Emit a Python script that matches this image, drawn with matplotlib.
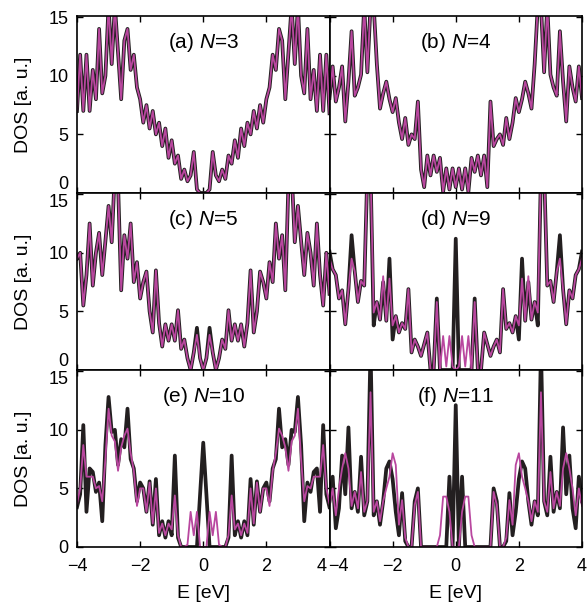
import numpy as np
import matplotlib
matplotlib.use("Agg")
import matplotlib.pyplot as plt
from matplotlib.transforms import ScaledTranslation

plt.rcParams['font.family'] = ['Liberation Sans', 'DejaVu Sans']
plt.rcParams['mathtext.fontset'] = 'custom'
plt.rcParams['mathtext.rm'] = 'Liberation Sans'
plt.rcParams['mathtext.it'] = 'Liberation Sans:italic'

# energy grid, eV
E = np.linspace(-4, 4, 81)

# DOS (black = thick curve, magenta = thin curve)
dos_a = [7.0, 11.8, 7.0, 11.8, 7.0, 10.5, 8.0, 14.0, 8.5, 10.0,
         16.0, 11.0, 16.0, 12.0, 8.0, 13.0, 14.0, 10.5, 11.8, 9.0,
         8.0, 6.0, 7.5, 5.5, 7.0, 5.0, 6.0, 4.0, 5.5, 3.0,
         4.5, 2.5, 3.2, 1.2, 2.0, 1.0, 1.5, 3.5, 0.3, 0.0, 0.0,
         0.0, 0.3, 3.5, 1.5, 1.0, 2.0, 1.2, 3.2, 2.5, 4.5,
         3.0, 5.5, 4.0, 6.0, 5.0, 7.0, 5.5, 7.5, 6.0, 8.0,
         9.0, 11.8, 10.5, 14.0, 13.0, 8.0, 12.0, 16.0, 11.0, 16.0,
         10.0, 8.5, 14.0, 8.0, 10.5, 7.0, 11.8, 7.0, 11.8, 6.8]

dos_b = [8.1, 10.8, 7.8, 9.0, 10.8, 6.1, 9.5, 13.8, 8.3, 9.0,
         10.1, 16.0, 10.3, 16.0, 16.0, 11.0, 7.2, 8.5, 9.5, 8.0,
         6.9, 8.1, 6.0, 4.6, 6.4, 4.1, 5.0, 4.6, 7.8, 2.0,
         0.5, 3.2, 1.5, 3.2, 1.8, 3.0, 0.1, 2.1, 0.3, 2.1, 0.5,
         2.1, 0.3, 2.1, 0.1, 3.0, 1.8, 3.2, 1.5, 3.2, 0.5,
         7.8, 4.0, 4.6, 5.0, 4.1, 6.4, 4.6, 6.0, 8.1, 6.9,
         8.0, 9.5, 8.5, 7.2, 11.0, 16.0, 16.0, 10.3, 16.0, 10.1,
         9.0, 8.3, 13.8, 9.5, 6.1, 10.8, 9.0, 7.8, 10.8, 8.1]

dos_c_black = [9.5, 10.0, 5.5, 8.1, 12.5, 7.2, 10.0, 11.7, 8.1, 11.0,
               14.0, 10.9, 17.0, 16.0, 6.8, 11.5, 9.5, 12.5, 7.5, 9.2,
               6.1, 7.5, 8.4, 5.0, 3.2, 8.5, 4.0, 2.0, 3.9, 2.5,
               3.9, 2.5, 5.1, 1.8, 2.6, 1.0, 0.0, 1.5, 3.6, 1.0, 0.0,
               1.0, 3.6, 1.5, 0.0, 1.0, 2.6, 1.8, 5.1, 2.5, 3.9,
               2.5, 3.9, 2.0, 4.0, 8.5, 3.2, 5.0, 8.4, 7.5, 6.1,
               9.2, 7.5, 12.5, 9.5, 11.5, 6.8, 16.0, 17.0, 10.9, 14.0,
               11.0, 8.1, 11.7, 10.0, 7.2, 12.5, 8.1, 5.5, 10.0, 6.5]

dos_c_magenta = [9.5, 10.0, 5.5, 8.1, 12.5, 7.2, 10.0, 11.7, 8.1, 11.0,
                 14.0, 10.9, 17.0, 16.0, 6.8, 11.5, 9.5, 12.5, 7.5, 9.2,
                 6.1, 7.5, 8.4, 5.0, 3.2, 8.5, 4.0, 2.0, 3.9, 2.5,
                 3.9, 2.5, 5.1, 1.8, 2.6, 1.0, 0.0, 1.5, 3.0, 1.0, 0.0,
                 1.0, 3.0, 1.5, 0.0, 1.0, 2.6, 1.8, 5.1, 2.5, 3.9,
                 2.5, 3.9, 2.0, 4.0, 8.5, 3.2, 5.0, 8.4, 7.5, 6.1,
                 9.2, 7.5, 12.5, 9.5, 11.5, 6.8, 16.0, 17.0, 10.9, 14.0,
                 11.0, 8.1, 11.7, 10.0, 7.2, 12.5, 8.1, 5.5, 10.0, 6.5]

dos_d_black = [10.1, 8.6, 8.1, 6.1, 6.8, 3.9, 6.9, 11.5, 8.4, 5.8,
               7.6, 7.2, 17.0, 17.0, 3.8, 5.8, 4.3, 7.5, 4.2, 9.5,
               2.6, 4.6, 3.2, 4.0, 3.5, 6.9, 1.5, 2.6, 2.0, 1.2,
               2.2, 3.2, 0.0, 0.0, 6.1, 0.0, 0.0, 0.0, 0.0, 0.0, 11.2,
               0.0, 0.0, 0.0, 0.0, 0.0, 6.1, 0.0, 0.0, 3.2, 2.2,
               1.2, 2.0, 2.6, 1.5, 6.9, 3.5, 4.0, 3.2, 4.6, 2.6,
               9.5, 4.2, 7.5, 4.3, 5.8, 3.8, 17.0, 17.0, 7.2, 7.6,
               5.8, 8.4, 11.5, 6.9, 3.9, 6.8, 6.1, 8.1, 8.6, 10.1]

dos_d_magenta = [9.5, 8.6, 8.1, 6.1, 6.8, 3.9, 6.9, 9.5, 8.4, 5.8,
                 7.6, 7.2, 17.0, 17.0, 4.9, 5.8, 4.3, 8.0, 4.2, 7.8,
                 3.8, 4.6, 3.2, 4.0, 3.5, 6.9, 1.5, 2.6, 2.0, 1.2,
                 2.2, 3.2, 0.0, 0.0, 5.8, 0.0, 2.9, 0.3, 2.9, 0.3, 0.0,
                 0.3, 2.9, 0.3, 2.9, 0.0, 5.8, 0.0, 0.0, 3.2, 2.2,
                 1.2, 2.0, 2.6, 1.5, 6.9, 3.5, 4.0, 3.2, 4.6, 3.8,
                 7.8, 4.2, 8.0, 4.3, 5.8, 4.9, 17.0, 17.0, 7.2, 7.6,
                 5.8, 8.4, 9.5, 6.9, 3.9, 6.8, 6.1, 8.1, 8.6, 9.5]

dos_e_black = [3.4, 4.5, 10.4, 3.0, 6.7, 6.4, 4.7, 5.5, 2.2, 8.7,
               12.8, 9.8, 10.0, 7.0, 9.2, 8.5, 11.8, 7.5, 6.7, 3.9,
               5.5, 5.0, 3.0, 5.6, 1.9, 5.8, 1.0, 2.2, 0.8, 2.2,
               1.0, 7.8, 0.8, 0.0, 0.0, 0.0, 0.0, 0.0, 0.0, 4.5, 8.9,
               4.5, 0.0, 0.0, 0.0, 0.0, 0.0, 0.0, 0.8, 7.8, 1.0,
               2.2, 0.8, 2.2, 1.0, 5.8, 1.9, 5.6, 3.0, 5.0, 5.5,
               3.9, 6.7, 7.5, 11.8, 8.5, 9.2, 7.0, 10.0, 9.8, 12.8,
               8.7, 2.2, 5.5, 4.7, 6.4, 6.7, 3.0, 10.4, 4.5, 3.4]

dos_e_magenta = [3.7, 5.0, 8.7, 6.0, 6.0, 6.0, 5.0, 5.2, 3.9, 7.5,
                 11.8, 9.5, 9.0, 6.5, 8.5, 9.5, 10.1, 8.0, 6.5, 3.5,
                 5.0, 5.0, 3.0, 5.5, 2.0, 5.0, 1.2, 2.0, 1.0, 2.0,
                 1.5, 4.4, 1.0, 0.0, 0.0, 0.2, 3.0, 1.0, 3.0, 0.0, 0.0,
                 0.0, 3.0, 1.0, 3.0, 0.2, 0.0, 0.0, 1.0, 4.4, 1.5,
                 2.0, 1.0, 2.0, 1.2, 5.0, 2.0, 5.5, 3.0, 5.0, 5.0,
                 3.5, 6.5, 8.0, 10.1, 9.5, 8.5, 6.5, 9.0, 9.5, 11.8,
                 7.5, 3.9, 5.2, 5.0, 6.0, 6.0, 6.0, 8.7, 5.0, 3.7]

dos_f_black = [3.9, 6.0, 1.6, 3.3, 7.8, 4.5, 10.2, 3.3, 4.7, 3.0,
               7.7, 2.7, 3.9, 17.0, 2.7, 3.9, 1.9, 3.9, 6.7, 7.3,
               5.8, 3.0, 1.0, 4.6, 0.5, 0.0, 0.0, 3.9, 5.0, 0.0,
               0.0, 0.0, 0.0, 0.0, 0.0, 0.0, 0.0, 0.0, 6.0, 0.0, 12.1,
               0.0, 6.0, 0.0, 0.0, 0.0, 0.0, 0.0, 0.0, 0.0, 0.0,
               0.0, 5.0, 3.9, 0.0, 0.0, 0.5, 4.6, 1.0, 3.0, 5.8,
               7.3, 6.7, 3.9, 1.9, 3.9, 2.7, 17.0, 3.9, 2.7, 7.7,
               3.0, 4.7, 3.3, 10.2, 4.5, 7.8, 3.3, 1.6, 6.0, 3.9]

dos_f_magenta = [3.5, 5.0, 2.7, 5.0, 6.7, 8.0, 6.7, 3.5, 4.7, 3.3,
                 6.4, 3.0, 3.9, 13.2, 3.0, 3.9, 2.2, 3.9, 5.0, 6.0,
                 8.0, 7.0, 1.9, 4.0, 0.8, 0.0, 0.0, 3.6, 4.7, 0.0,
                 0.0, 0.0, 0.0, 0.0, 0.0, 1.0, 4.3, 4.3, 3.0, 0.0, 0.0,
                 0.0, 3.0, 4.3, 4.3, 1.0, 0.0, 0.0, 0.0, 0.0, 0.0,
                 0.0, 4.7, 3.6, 0.0, 0.0, 0.8, 4.0, 1.9, 7.0, 8.0,
                 6.0, 5.0, 3.9, 2.2, 3.9, 3.0, 13.2, 3.9, 3.0, 6.4,
                 3.3, 4.7, 3.5, 6.7, 8.0, 6.7, 5.0, 2.7, 5.0, 3.5]

panels = [('a', 3, dos_a, dos_a), ('b', 4, dos_b, dos_b),
          ('c', 5, dos_c_black, dos_c_magenta), ('d', 9, dos_d_black, dos_d_magenta),
          ('e', 10, dos_e_black, dos_e_magenta), ('f', 11, dos_f_black, dos_f_magenta)]

black = '#231f20'
magenta = '#b9479f'
fs_tick = 13
fs_label = 14
fs_title = 15

fig, axes = plt.subplots(3, 2, figsize=(5.88, 6.05), dpi=100)
fig.subplots_adjust(left=77/588, right=582/588, top=1-16/605, bottom=1-547/605,
                    hspace=0, wspace=0)

for k, (letter, n, yb, ym) in enumerate(panels):
    row, col = divmod(k, 2)
    ax = axes[row, col]
    ax.plot(E, yb, color=black, lw=2.7, solid_joinstyle='round')
    ax.plot(E, ym, color=magenta, lw=1.3, solid_joinstyle='round')
    ax.set_xlim(-4, 4)
    ax.set_ylim(0, 15.1)
    ax.set_xticks([-4, -2, 0, 2, 4])
    ax.set_yticks([0, 5, 10, 15])
    ax.tick_params(direction='in', top=True, right=True, length=4, width=1,
                   labelsize=fs_tick)
    ax.tick_params(axis='x', pad=8)
    ax.tick_params(axis='y', pad=6)
    for sp in ax.spines.values():
        sp.set_linewidth(1.2)
    ax.text(0.5, 0.85, f"({letter}) $N$={n}", transform=ax.transAxes,
            ha='center', va='center', fontsize=fs_title)
    if col == 0:
        ax.set_ylabel("DOS [a. u.]", fontsize=fs_label, labelpad=12)
        yt = ax.yaxis.get_major_ticks()
        if row < 2:
            yt[0].label1.set_va('bottom')
        if row > 0:
            yt[3].label1.set_va('top')
    else:
        ax.set_yticklabels([])
    if row < 2:
        ax.set_xticklabels([])
    else:
        ax.set_xlabel("E [eV]", fontsize=fs_label, labelpad=7)
        xt = ax.xaxis.get_major_ticks()
        if col == 0:
            lab = xt[4].label1
            lab.set_ha('right')
            lab.set_transform(lab.get_transform() + ScaledTranslation(-3/100, 0, fig.dpi_scale_trans))
        else:
            lab = xt[0].label1
            lab.set_ha('left')
            lab.set_transform(lab.get_transform() + ScaledTranslation(-1/100, 0, fig.dpi_scale_trans))

fig.savefig('out.png', dpi=100)
